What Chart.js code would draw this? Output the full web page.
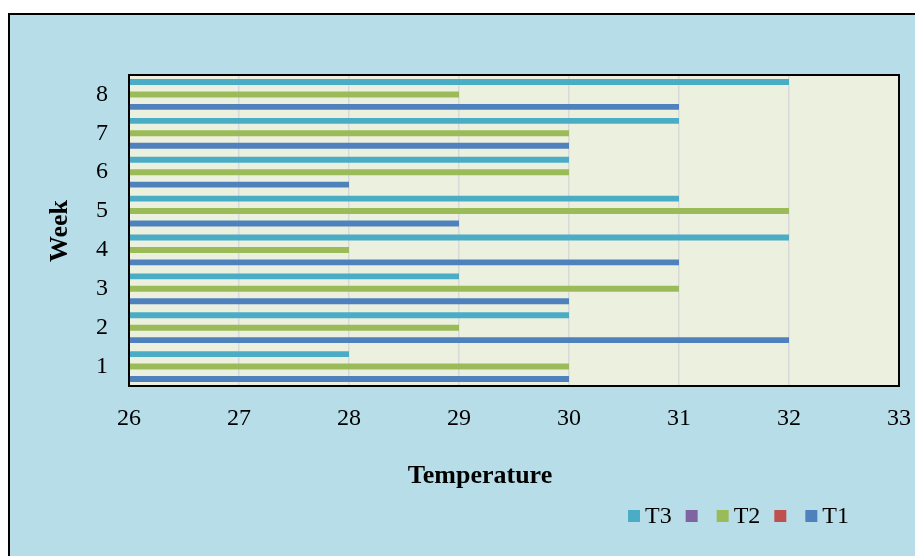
<!DOCTYPE html>
<html>
<head>
<meta charset="utf-8">
<title>Weekly temperature</title>
<script src="https://cdn.jsdelivr.net/npm/chart.js@4/dist/chart.umd.min.js"></script>
<style>
  html, body { margin: 0; padding: 0; background: #ffffff; }
  #wrap { width: 915px; height: 556px; }
</style>
</head>
<body>
<div id="wrap"><canvas id="chart" width="915" height="556"></canvas></div>
<script>
// Weeks on the category axis (bottom to top)
const weeks = ['1', '2', '3', '4', '5', '6', '7', '8'];

// Temperature readings per week
const t1 = [30, 32, 30, 31, 29, 28, 30, 31];
const t2 = [30, 29, 31, 28, 32, 30, 30, 29];
const t3 = [28, 30, 29, 32, 31, 30, 31, 32];
// Two unnamed series with no values (they keep their slot in each group)
const blankA = [null, null, null, null, null, null, null, null];
const blankB = [null, null, null, null, null, null, null, null];

// Temperature axis ticks
const tempTicks = [26, 27, 28, 29, 30, 31, 32, 33];

const serif = "'Liberation Serif', 'Times New Roman', serif";

// Background, plot fill, borders, axis titles and the legend row
const decor = {
  id: 'decor',
  beforeDraw(chart) {
    const { ctx, chartArea: a, width, height } = chart;
    ctx.save();
    ctx.fillStyle = '#ffffff';
    ctx.fillRect(0, 0, width, height);
    ctx.fillStyle = '#B7DEE8';
    ctx.fillRect(8, 13, width, height);
    ctx.strokeStyle = '#000000';
    ctx.lineWidth = 2;
    ctx.strokeRect(9, 14, width + 10, height + 10);
    ctx.fillStyle = '#EBF1DE';
    ctx.fillRect(a.left, a.top, a.right - a.left, a.bottom - a.top);
    ctx.restore();
  },
  afterDraw(chart) {
    const { ctx, chartArea: a } = chart;
    ctx.save();
    ctx.strokeStyle = '#000000';
    ctx.lineWidth = 2;
    ctx.strokeRect(a.left, a.top, a.right - a.left, a.bottom - a.top);

    // axis titles
    ctx.fillStyle = '#000000';
    ctx.font = 'bold 26px ' + serif;
    ctx.textAlign = 'center';
    ctx.textBaseline = 'middle';
    ctx.fillText('Temperature', 480, 476);
    ctx.save();
    ctx.translate(60, 231);
    ctx.rotate(-Math.PI / 2);
    ctx.fillText('Week', 0, 0);
    ctx.restore();

    // legend: box, short gap, label, wider gap
    ctx.font = '24px ' + serif;
    ctx.textAlign = 'left';
    let x = 628;
    const y = 516;
    chart.data.datasets.forEach(ds => {
      ctx.fillStyle = ds.backgroundColor;
      ctx.fillRect(x, y - 6, 12, 12);
      x += 12 + 5;
      ctx.fillStyle = '#000000';
      ctx.fillText(ds.label, x, y + 1);
      x += ctx.measureText(ds.label).width + 14;
    });
    ctx.restore();
  }
};

new Chart(document.getElementById('chart'), {
  type: 'bar',
  data: {
    labels: weeks,
    datasets: [
      { label: 'T3', data: t3, backgroundColor: '#4BACC6' },
      { label: '',   data: blankA, backgroundColor: '#8064A2' },
      { label: 'T2', data: t2, backgroundColor: '#9BBB59' },
      { label: '',   data: blankB, backgroundColor: '#C0504D' },
      { label: 'T1', data: t1, backgroundColor: '#4F81BD' }
    ]
  },
  options: {
    indexAxis: 'y',
    responsive: false,
    animation: false,
    devicePixelRatio: 1,
    categoryPercentage: 0.8,
    barPercentage: 0.95,
    layout: { padding: { left: 8, right: 16, top: 75, bottom: 0 } },
    plugins: {
      legend: { display: false },
      tooltip: { enabled: false }
    },
    scales: {
      x: {
        type: 'linear',
        min: tempTicks[0],
        max: tempTicks[tempTicks.length - 1],
        afterBuildTicks(scale) {
          scale.ticks = tempTicks.map(v => ({ value: v }));
        },
        afterFit(scale) {
          scale.height = 170;
          scale.paddingLeft = 0;
          scale.paddingRight = 0;
        },
        grid: { color: '#D9D9D9', lineWidth: 1.5, drawTicks: false },
        border: { display: false },
        ticks: {
          padding: 18,
          color: '#000000',
          font: { family: serif, size: 24 },
          maxRotation: 0
        }
      },
      y: {
        type: 'category',
        reverse: true,
        afterFit(scale) { scale.width = 121; },
        grid: { display: false, drawTicks: false },
        border: { display: false },
        ticks: {
          padding: 21,
          color: '#000000',
          font: { family: serif, size: 24 }
        }
      }
    }
  },
  plugins: [decor]
});
</script>
</body>
</html>
